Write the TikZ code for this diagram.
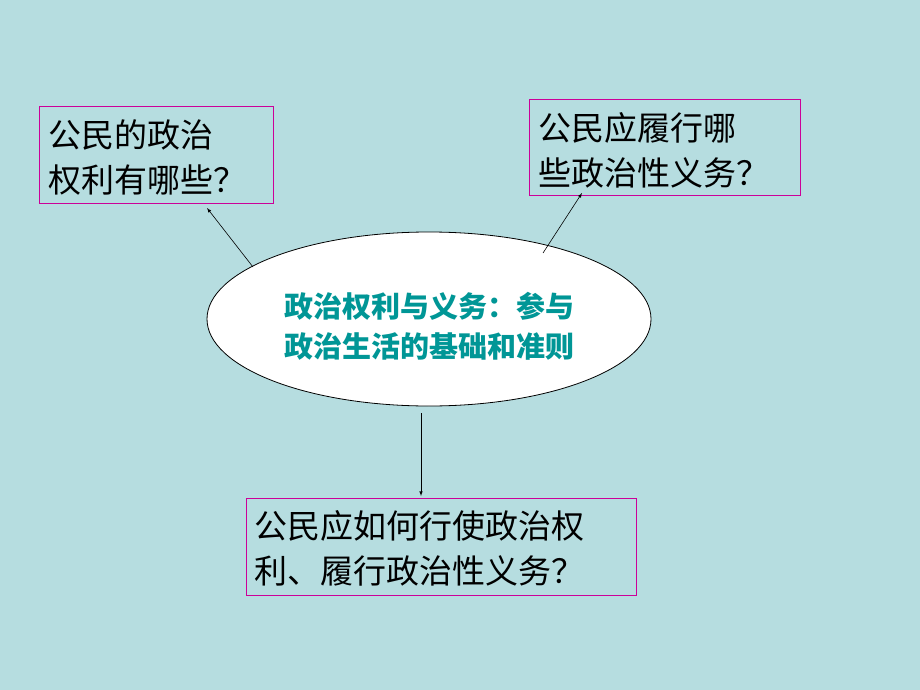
\documentclass[tikz,border=0pt]{standalone}
\usepackage{fontspec}
\newfontfamily\cjk{Noto Sans CJK SC}
\usetikzlibrary{shapes.geometric}
\definecolor{bg}{RGB}{182,221,224}
\definecolor{bx}{RGB}{204,0,153}
\definecolor{tl}{RGB}{0,150,150}
\begin{document}
\begin{tikzpicture}[x=1pt,y=-1pt,
  box/.style={draw=bx,line width=1pt,rectangle,anchor=north west,inner sep=0pt,outer sep=0pt},
  lab/.style={align=left,anchor=west,font=\cjk\fontsize{33}{45}\selectfont,text=black,inner sep=0pt},
  arr/.style={-latex,line width=0.6pt}]
\fill[bg] (0,0) rectangle (920,690);
\useasboundingbox (0,0) rectangle (920,690);
\node[box,minimum width=234pt,minimum height=96pt] (b1) at (39,107) {};
\node[lab] (t1) at (48,157) {公民的政治\\权利有哪些？};
\node[box,minimum width=271pt,minimum height=95pt] (b2) at (529,100) {};
\node[lab] (t2) at (538,150) {公民应履行哪\\些政治性义务？};
\node[box,minimum width=390pt,minimum height=97pt] (b3) at (246,498) {};
\node[lab] (t3) at (254,548) {公民应如何行使政治权\\利、履行政治性义务？};
\node[ellipse,draw=black,fill=white,line width=0.8pt,minimum width=444pt,minimum height=174pt,inner sep=0pt] (e) at (429,319) {};
\node[align=center,font=\cjk\bfseries\fontsize{29}{40}\selectfont,text=tl] (et) at (429,326) {政治权利与义务：参与\\政治生活的基础和准则};
\coordinate (a1) at (207,208);
\coordinate (a2) at (582,193);
\coordinate (a3) at (421,496);
\coordinate (s1) at (253,267);
\coordinate (s2) at (543,253);
\coordinate (s3) at (421,413);
\draw[arr] (s1) -- (a1);
\draw[arr] (s2) -- (a2);
\draw[arr] (s3) -- (a3);
\end{tikzpicture}
\end{document}
